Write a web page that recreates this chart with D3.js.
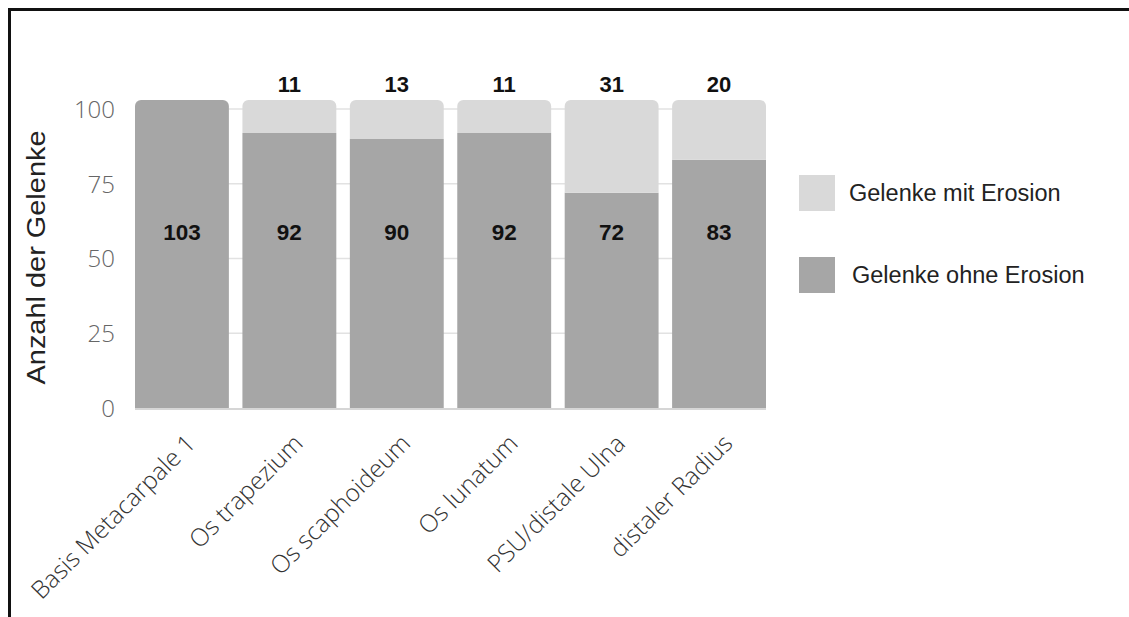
<!DOCTYPE html>
<html>
<head>
<meta charset="utf-8">
<script src="https://cdn.jsdelivr.net/npm/d3@7"></script>
<style>
  html, body { margin: 0; padding: 0; background: #fff; }
  svg { display: block; }
</style>
</head>
<body>
<svg id="chart" width="1129" height="617"></svg>
<script>
// Joint categories and counts
const categories = ["Basis Metacarpale 1", "Os trapezium", "Os scaphoideum", "Os lunatum", "PSU/distale Ulna", "distaler Radius"];
const ohneErosion = [103, 92, 90, 92, 72, 83];
const mitErosion  = [0, 11, 13, 11, 31, 20];
const yTicks = [0, 25, 50, 75, 100];
const seriesNames = ["Gelenke mit Erosion", "Gelenke ohne Erosion"];
const yTitle = "Anzahl der Gelenke";

const colDark = "#a6a6a6";
const colLight = "#d9d9d9";

const svg = d3.select("#chart");

// Frame lines (left and top)
svg.append("line").attr("x1", 9.5).attr("x2", 9.5).attr("y1", 8).attr("y2", 617)
  .attr("stroke", "#111").attr("stroke-width", 3);
svg.append("line").attr("x1", 8).attr("x2", 1129).attr("y1", 9.5).attr("y2", 9.5)
  .attr("stroke", "#111").attr("stroke-width", 3);

const x = d3.scaleBand().domain(categories).range([135, 766]).paddingInner(0.126).paddingOuter(0);
const y = d3.scaleLinear().domain([0, 100]).range([408, 109]);

// Gridlines
svg.append("g").selectAll("line").data(yTicks.filter(t => t > 0)).join("line")
  .attr("x1", 135).attr("x2", 766)
  .attr("y1", d => y(d)).attr("y2", d => y(d))
  .attr("stroke", "#e2e2e2").attr("stroke-width", 1.5);

// Y axis tick labels
const yAxis = d3.axisLeft(y).tickValues(yTicks).tickSize(0).tickPadding(0);
const gy = svg.append("g").attr("transform", "translate(115,0)").call(yAxis);
gy.select(".domain").remove();
gy.selectAll("text")
  .attr("font-family", "'Open Sans', sans-serif")
  .attr("font-weight", 300)
  .attr("font-size", 24)
  .attr("fill", "#666")
  .attr("dy", "0.35em");

// Y axis title
svg.append("text")
  .attr("transform", `translate(45,${(130 + 385) / 2}) rotate(-90)`)
  .attr("text-anchor", "middle")
  .attr("font-family", "'Liberation Sans', Arial, sans-serif")
  .attr("font-size", 26)
  .attr("textLength", 254)
  .attr("lengthAdjust", "spacingAndGlyphs")
  .attr("fill", "#222")
  .text(yTitle);

// Stacked data
const rows = categories.map((c, i) => ({ cat: c, ohne: ohneErosion[i], mit: mitErosion[i] }));
const stack = d3.stack().keys(["ohne", "mit"])(rows);

// Rect path with optional rounded top corners
function segPath(x0, w, yTop, yBot, r) {
  const p = d3.path();
  if (r > 0) {
    p.moveTo(x0, yBot);
    p.lineTo(x0, yTop + r);
    p.arcTo(x0, yTop, x0 + r, yTop, r);
    p.lineTo(x0 + w - r, yTop);
    p.arcTo(x0 + w, yTop, x0 + w, yTop + r, r);
    p.lineTo(x0 + w, yBot);
  } else {
    p.moveTo(x0, yBot);
    p.lineTo(x0, yTop);
    p.lineTo(x0 + w, yTop);
    p.lineTo(x0 + w, yBot);
  }
  p.closePath();
  return p.toString();
}

const colors = { ohne: colDark, mit: colLight };
stack.forEach((layer, li) => {
  svg.append("g").selectAll("path").data(layer).join("path")
    .attr("d", d => {
      const isTop = li === stack.length - 1 ? true : (d.data.mit === 0);
      return segPath(x(d.data.cat), x.bandwidth(), y(d[1]), y(d[0]), isTop && d[1] > d[0] ? 6 : 0);
    })
    .attr("fill", colors[layer.key])
    .attr("display", d => d[1] > d[0] ? null : "none");
});

// Baseline
svg.append("line").attr("x1", 135).attr("x2", 766).attr("y1", y(0) + 1).attr("y2", y(0) + 1)
  .attr("stroke", "#c8c8c8").attr("stroke-width", 1.5);

// Value labels: lower series inside the bars
const labelRowValue = 59;
svg.append("g").selectAll("text").data(rows).join("text")
  .attr("x", d => x(d.cat) + x.bandwidth() / 2)
  .attr("y", y(labelRowValue) + 8)
  .attr("text-anchor", "middle")
  .attr("font-family", "'Liberation Sans', Arial, sans-serif")
  .attr("font-weight", "bold")
  .attr("font-size", 22.5)
  .attr("fill", "#111")
  .text(d => d.ohne);

// Value labels: upper series above the bars
svg.append("g").selectAll("text").data(rows.filter(d => d.mit > 0)).join("text")
  .attr("x", d => x(d.cat) + x.bandwidth() / 2)
  .attr("y", d => y(d.ohne + d.mit) - 8)
  .attr("text-anchor", "middle")
  .attr("font-family", "'Liberation Sans', Arial, sans-serif")
  .attr("font-weight", "bold")
  .attr("font-size", 22)
  .attr("fill", "#111")
  .text(d => d.mit);

// Category labels, rotated
svg.append("g").selectAll("text").data(categories).join("text")
  .attr("transform", d => `translate(${x(d) + x.bandwidth() / 2 + 15},${y(0) + 37}) rotate(-45)`)
  .attr("text-anchor", "end")
  .attr("font-family", "'Open Sans', sans-serif")
  .attr("font-weight", 300)
  .attr("font-size", 24.5)
  .attr("fill", "#333")
  .text(d => d);

// Legend
const legend = svg.append("g");
const legendItems = [
  { name: seriesNames[0], color: colLight, y: 175, tx: 849 },
  { name: seriesNames[1], color: colDark, y: 257, tx: 852 }
];
legend.selectAll("rect").data(legendItems).join("rect")
  .attr("x", 799).attr("y", d => d.y).attr("width", 36).attr("height", 36)
  .attr("fill", d => d.color);
legend.selectAll("text").data(legendItems).join("text")
  .attr("x", d => d.tx).attr("y", d => d.y + 18).attr("dy", "0.35em")
  .attr("font-family", "'Liberation Sans', Arial, sans-serif")
  .attr("font-size", 23.5)
  .attr("fill", "#222")
  .text(d => d.name);
</script>
</body>
</html>
